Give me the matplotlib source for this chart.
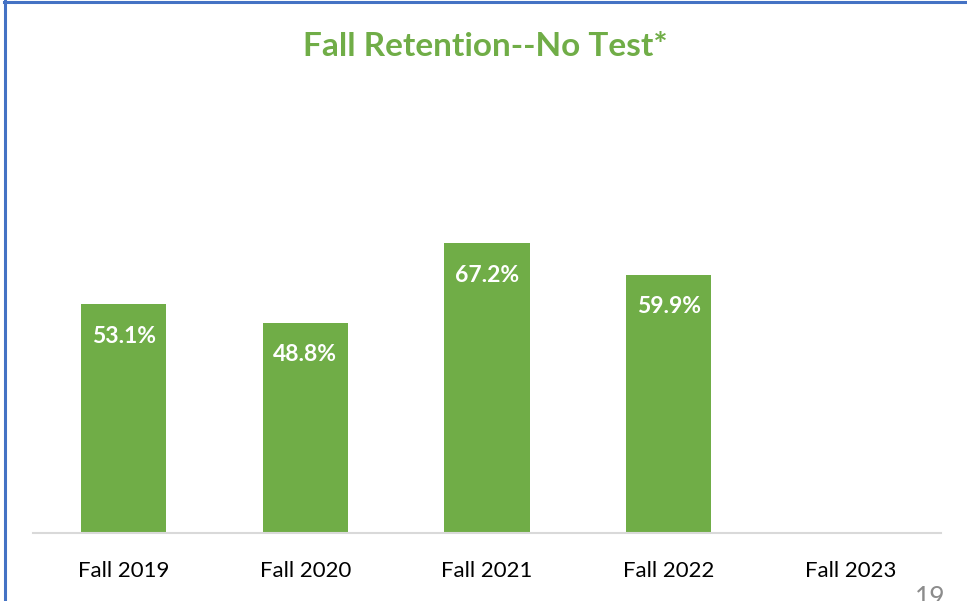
import matplotlib.pyplot as plt
from matplotlib.lines import Line2D

categories = ["Fall 2019", "Fall 2020", "Fall 2021", "Fall 2022", "Fall 2023"]
values = [53.1, 48.8, 67.2, 59.9, None]
labels = ["53.1%", "48.8%", "67.2%", "59.9%", ""]

green = "#70AD47"
W, H = 967, 601

fig = plt.figure(figsize=(W / 100, H / 100), dpi=100)
plt.rcParams["font.family"] = ["Lato", "DejaVu Sans"]

# plot area in pixels: left 33, right 941, baseline 533, top at 80%
left, right, bottom = 33, 941, 533
top = bottom - 80 * 4.31
ax = fig.add_axes([left / W, 1 - bottom / H, (right - left) / W, (bottom - top) / H])

xs = list(range(len(categories)))
vals = [v if v is not None else 0 for v in values]
ax.bar(xs, vals, width=0.47, color=green, zorder=2)

for x, v, lab in zip(xs, vals, labels):
    if lab:
        ax.annotate(lab, (x, v), xytext=(0, -32), textcoords="offset pixels",
                    ha="center", va="center", color="white",
                    fontsize=16.5, fontweight="bold")

ax.set_xlim(-0.5, len(categories) - 0.5)
ax.set_ylim(0, 80)
ax.set_xticks(xs, categories, fontsize=16, color="black")
ax.set_yticks([])
ax.tick_params(axis="x", length=0, pad=20)
for s in ["top", "right", "left"]:
    ax.spines[s].set_visible(False)
ax.spines["bottom"].set_color("#D9D9D9")
ax.spines["bottom"].set_linewidth(1.5)

fig.text(485 / W, 1 - 47 / H, "Fall Retention--No Test*", ha="center", va="center",
         color=green, fontsize=24, fontweight="bold")

# page number, partly cut at the bottom edge
fig.text(930 / W, 1 - 586 / H, "19", ha="center", va="top",
         color="#8C8C8C", fontsize=19)

# slide frame lines
fig.add_artist(Line2D([5 / W, 5 / W], [0, 1 - 1 / H], transform=fig.transFigure,
                      color="#4472C4", linewidth=2.2))
fig.add_artist(Line2D([4 / W, 1], [1 - 2 / H, 1 - 2 / H], transform=fig.transFigure,
                      color="#4472C4", linewidth=2.2))

fig.savefig("out.png", dpi=100)
